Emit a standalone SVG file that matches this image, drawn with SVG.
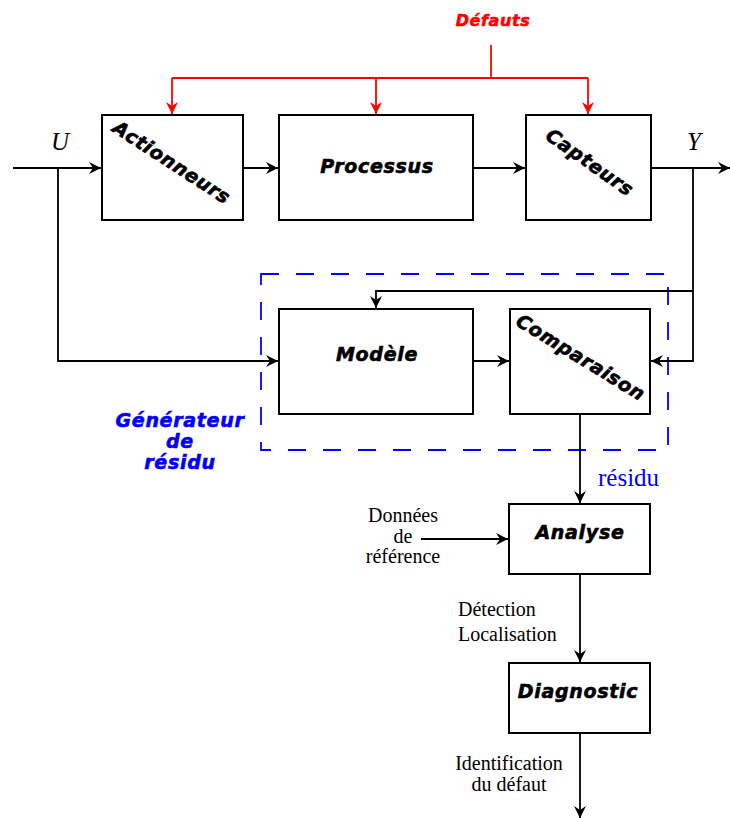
<svg xmlns="http://www.w3.org/2000/svg" width="730" height="818" viewBox="0 0 730 818">
<style>
.box{fill:#fff;stroke:#000;stroke-width:2}
.lbl{font-family:"DejaVu Sans",sans-serif;font-weight:bold;font-style:italic;font-size:19px;letter-spacing:0.7px;text-anchor:middle;stroke:#000;stroke-width:0.6px}
.blue{fill:#00f;stroke:#00f}
.red{fill:#f00;stroke:#f00}
.ser{font-family:"Liberation Serif",serif;font-size:20px}
.c{fill:none;stroke:#000;stroke-width:1.8}
.r{fill:none;stroke:#f00;stroke-width:1.8}
</style>
<defs>
<marker id="ah" viewBox="-13 -7 14 14" refX="0" refY="0" markerWidth="14" markerHeight="14" markerUnits="userSpaceOnUse" orient="auto"><path d="M0,0 L-12,-6 L-8,0 L-12,6 Z" fill="#000"/></marker>
<marker id="ahr" viewBox="-13 -7 14 14" refX="0" refY="0" markerWidth="14" markerHeight="14" markerUnits="userSpaceOnUse" orient="auto"><path d="M0,0 L-12,-6 L-8,0 L-12,6 Z" fill="#f00"/></marker>
</defs>
<rect width="730" height="818" fill="#fff"/>

<g id="generateur">
<rect x="261" y="274" width="407" height="176" fill="none" stroke="#00f" stroke-width="1.8" stroke-dasharray="18 17"/>
<text class="lbl blue" x="180" y="427">Générateur</text>
<text class="lbl blue" x="180" y="448">de</text>
<text class="lbl blue" x="180" y="469">résidu</text>
</g>

<g id="connectors">
<path class="c" d="M13,168 H101" marker-end="url(#ah)"/>
<path class="c" d="M58,168 V361 H278" marker-end="url(#ah)"/>
<path class="c" d="M243,168 H278" marker-end="url(#ah)"/>
<path class="c" d="M473,168 H525" marker-end="url(#ah)"/>
<path class="c" d="M651,168 H730" marker-end="url(#ah)"/>
<path class="c" d="M693,168 V361 H651" marker-end="url(#ah)"/>
<path class="c" d="M693,291 H376 V308" marker-end="url(#ah)"/>
<path class="c" d="M473,361 H509" marker-end="url(#ah)"/>
<path class="c" d="M580,414 V503" marker-end="url(#ah)"/>
<path class="c" d="M421,539 H508" marker-end="url(#ah)"/>
<path class="c" d="M580,574 V662" marker-end="url(#ah)"/>
<path class="c" d="M580,733 V818" marker-end="url(#ah)"/>
<path class="r" d="M491,45 V78 M172,78 H588"/>
<path class="r" d="M172,78 V114" marker-end="url(#ahr)"/>
<path class="r" d="M376,78 V114" marker-end="url(#ahr)"/>
<path class="r" d="M588,78 V114" marker-end="url(#ahr)"/>
</g>

<g id="defauts">
<text class="lbl red" style="font-size:16px;letter-spacing:0.6px" x="493" y="26">Défauts</text>
</g>

<g id="actionneurs">
<rect class="box" x="102" y="115" width="141" height="105"/>
<text class="lbl" x="172" y="169" transform="rotate(33 172 162)">Actionneurs</text>
</g>
<g id="processus">
<rect class="box" x="279" y="115" width="194" height="105"/>
<text class="lbl" x="377" y="173">Processus</text>
</g>
<g id="capteurs">
<rect class="box" x="526" y="115" width="125" height="105"/>
<text class="lbl" x="590" y="169" transform="rotate(35 590 162)">Capteurs</text>
</g>
<g id="modele">
<rect class="box" x="279" y="309" width="194" height="105"/>
<text class="lbl" x="377" y="361">Modèle</text>
</g>
<g id="comparaison">
<rect class="box" x="510" y="309" width="140" height="105"/>
<text class="lbl" x="581" y="364" transform="rotate(31.5 581 357)">Comparaison</text>
</g>
<g id="analyse">
<rect class="box" x="509" y="504" width="141" height="70"/>
<text class="lbl" x="580" y="539">Analyse</text>
</g>
<g id="diagnostic">
<rect class="box" x="509" y="663" width="141" height="70"/>
<text class="lbl" x="578" y="698">Diagnostic</text>
</g>

<g id="labels">
<text class="ser" style="font-size:25px;font-style:italic" x="60" y="150" text-anchor="middle">U</text>
<text class="ser" style="font-size:25px;font-style:italic" x="694" y="150" text-anchor="middle">Y</text>
<text class="ser" style="font-size:25px" fill="#00f" x="598" y="486">résidu</text>
<text class="ser" x="403" y="522" text-anchor="middle">Données</text>
<text class="ser" x="403" y="542.5" text-anchor="middle">de</text>
<text class="ser" x="403" y="563" text-anchor="middle">référence</text>
<text class="ser" x="458" y="616">Détection</text>
<text class="ser" x="458" y="641">Localisation</text>
<text class="ser" x="509" y="770" text-anchor="middle">Identification</text>
<text class="ser" x="509" y="791" text-anchor="middle">du défaut</text>
</g>
</svg>
